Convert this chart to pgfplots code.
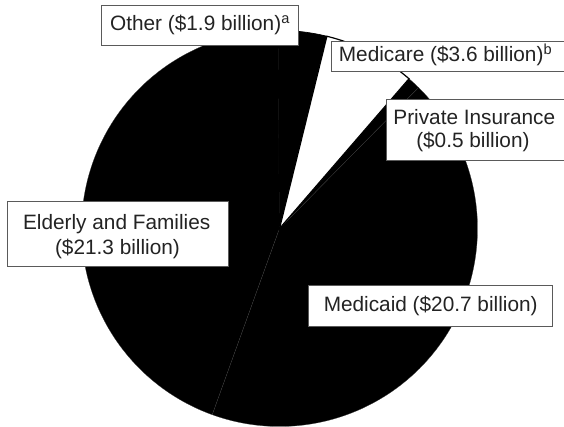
\documentclass[border=0pt]{standalone}
\usepackage{pgfplots}
\pgfplotsset{compat=1.18}
\usepackage{fontspec}
\setmainfont{Liberation Sans}
\definecolor{txt}{RGB}{35,35,35}
\definecolor{boxline}{RGB}{90,90,90}
\definecolor{sep}{RGB}{60,60,60}
\newcommand{\fs}{\fontsize{20.8bp}{24.7bp}\selectfont}
\begin{document}
\begin{tikzpicture}
\useasboundingbox (0,0) rectangle (564bp,427bp);
\clip (0,0) rectangle (564bp,427bp);
% values (billions of dollars)
\def\vOther{1.9}
\def\vMedicare{3.6}
\def\vPrivate{0.5}
\def\vMedicaid{20.7}
\def\vElderly{21.3}
\pgfmathsetmacro{\tot}{\vOther+\vMedicare+\vPrivate+\vMedicaid+\vElderly}
\pgfmathsetmacro{\k}{360/\tot}
\pgfmathsetmacro{\aStart}{90.4}
\pgfmathsetmacro{\aOther}{\aStart-\vOther*\k}
\pgfmathsetmacro{\aMedicare}{\aOther-\vMedicare*\k}
\pgfmathsetmacro{\aPrivate}{\aMedicare-\vPrivate*\k}
\pgfmathsetmacro{\aMedicaid}{\aPrivate-\vMedicaid*\k}
\pgfmathsetmacro{\aElderly}{\aMedicaid-\vElderly*\k}
\begin{axis}[at={(0,0)}, anchor=south west, scale only axis,
  width=564bp, height=427bp, xmin=0, xmax=564, ymin=0, ymax=427,
  hide axis, clip=false]
% Elderly and Families
\addplot[fill=black, draw=sep, line width=0.25bp, domain=\aElderly:\aMedicaid, samples=140]
  ({279.5+198*cos(x)}, {198.5+198*sin(x)}) -- (axis cs:279.5,198.5) -- cycle;
% Medicaid
\addplot[fill=black, draw=sep, line width=0.25bp, domain=\aMedicaid:\aPrivate, samples=140]
  ({279.5+198*cos(x)}, {198.5+198*sin(x)}) -- (axis cs:279.5,198.5) -- cycle;
% Private insurance
\addplot[fill=black, draw=sep, line width=0.25bp, domain=\aPrivate:\aMedicare, samples=10]
  ({279.5+198*cos(x)}, {198.5+198*sin(x)}) -- (axis cs:279.5,198.5) -- cycle;
% Other
\addplot[fill=black, draw=black, line width=0.7bp, domain=\aOther:\aStart, samples=20]
  ({279.5+198*cos(x)}, {198.5+198*sin(x)}) -- (axis cs:279.5,198.5) -- cycle;
% Medicare
\addplot[fill=white, draw=black, line width=1.2bp, domain=\aMedicare:\aOther, samples=40]
  ({279.5+198*cos(x)}, {198.5+198*sin(x)}) -- (axis cs:279.5,198.5) -- cycle;

% labels
\node[draw=boxline, fill=white, line width=0.8bp, minimum width=196.3bp, minimum height=40.7bp, inner sep=0pt, text=txt, font=\fs]
  at (axis cs:200,401.65) {Other (\$1.9 billion)\textsuperscript{a}};
\node[draw=boxline, fill=white, line width=0.8bp, minimum width=238.7bp, minimum height=30.7bp, inner sep=0pt]
  at (axis cs:450.65,370.65) {};
\node[anchor=base west, inner sep=0pt, text=txt, font=\fs] at (axis cs:338.7,365.3) {Medicare (\$3.6 billion)\textsuperscript{b}};
\node[draw=boxline, fill=white, line width=0.8bp, minimum width=184bp, minimum height=61bp, inner sep=0pt]
  at (axis cs:478,297.5) {};
\node[anchor=base, inner sep=0pt, text=txt, font=\fs] at (axis cs:474.3,302.5) {Private Insurance};
\node[anchor=base, inner sep=0pt, text=txt, font=\fs] at (axis cs:472.9,279.5) {(\$0.5 billion)};
\node[draw=boxline, fill=white, line width=0.8bp, minimum width=221bp, minimum height=64.6bp, inner sep=0pt]
  at (axis cs:117.8,193) {};
\node[anchor=base, inner sep=0pt, text=txt, font=\fs] at (axis cs:116.7,197) {Elderly and Families};
\node[anchor=base, inner sep=0pt, text=txt, font=\fs] at (axis cs:117.5,172.3) {(\$21.3 billion)};
\node[draw=boxline, fill=white, line width=0.8bp, minimum width=244bp, minimum height=40.6bp, inner sep=0pt, text=txt, font=\fs]
  at (axis cs:430.7,121) {Medicaid (\$20.7 billion)};
\end{axis}
\end{tikzpicture}
\end{document}
